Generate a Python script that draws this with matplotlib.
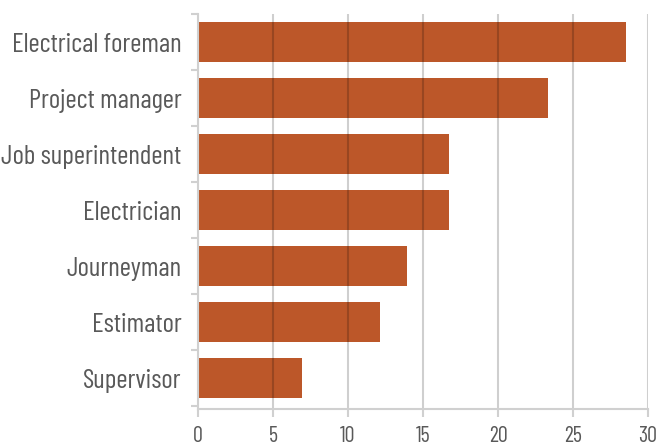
import matplotlib
matplotlib.use("Agg")
import matplotlib.pyplot as plt
import numpy as np
from matplotlib import font_manager

categories = ["Electrical foreman", "Project manager", "Job superintendent",
              "Electrician", "Journeyman", "Estimator", "Supervisor"]
values = [28.5, 23.35, 16.75, 16.75, 13.9, 12.15, 6.95]
xticks = [0, 5, 10, 15, 20, 25, 30]

names = {f.name for f in font_manager.fontManager.ttflist}
pref = ["Barlow Condensed", "Roboto Condensed", "Archivo Narrow", "Asap Condensed"]
fam = next((p for p in pref if p in names), "DejaVu Sans")
plt.rcParams["font.family"] = [fam, "DejaVu Sans"]

fig = plt.figure(figsize=(6.57, 4.42), dpi=100)
ax = fig.add_axes([198/657, 1-409/442, 450/657, 395/442])

y = np.arange(len(categories))
ax.barh(y, values, height=0.71, color="#BC5729", zorder=2)
ax.set_ylim(len(categories)-0.5+0.05, -0.5)
ax.set_xlim(0, 30)
ax.set_xticks(xticks)
ax.set_xticklabels([str(t) for t in xticks])
ax.set_yticks(y)
ax.set_yticklabels(categories)
ax.set_yticks(np.arange(-0.5, len(categories)+0.5, 1), minor=True)

for t in xticks:
    ax.axvline(t, color="black", alpha=0.19, lw=1.5, zorder=3)

for s in ["top", "right"]:
    ax.spines[s].set_visible(False)
for s in ["left", "bottom"]:
    ax.spines[s].set_color("#d0d0d0")
    ax.spines[s].set_linewidth(1.5)
    ax.spines[s].set_zorder(4)

ax.tick_params(axis="y", which="major", length=0, pad=12, labelsize=19.5, labelcolor="#595959")
ax.tick_params(axis="y", which="minor", length=5, width=1.5, color="#d0d0d0")
ax.tick_params(axis="x", which="major", length=6, width=1.5, color="#d0d0d0",
               labelsize=16, labelcolor="#595959", pad=6)

fig.savefig("out.png", dpi=100)
